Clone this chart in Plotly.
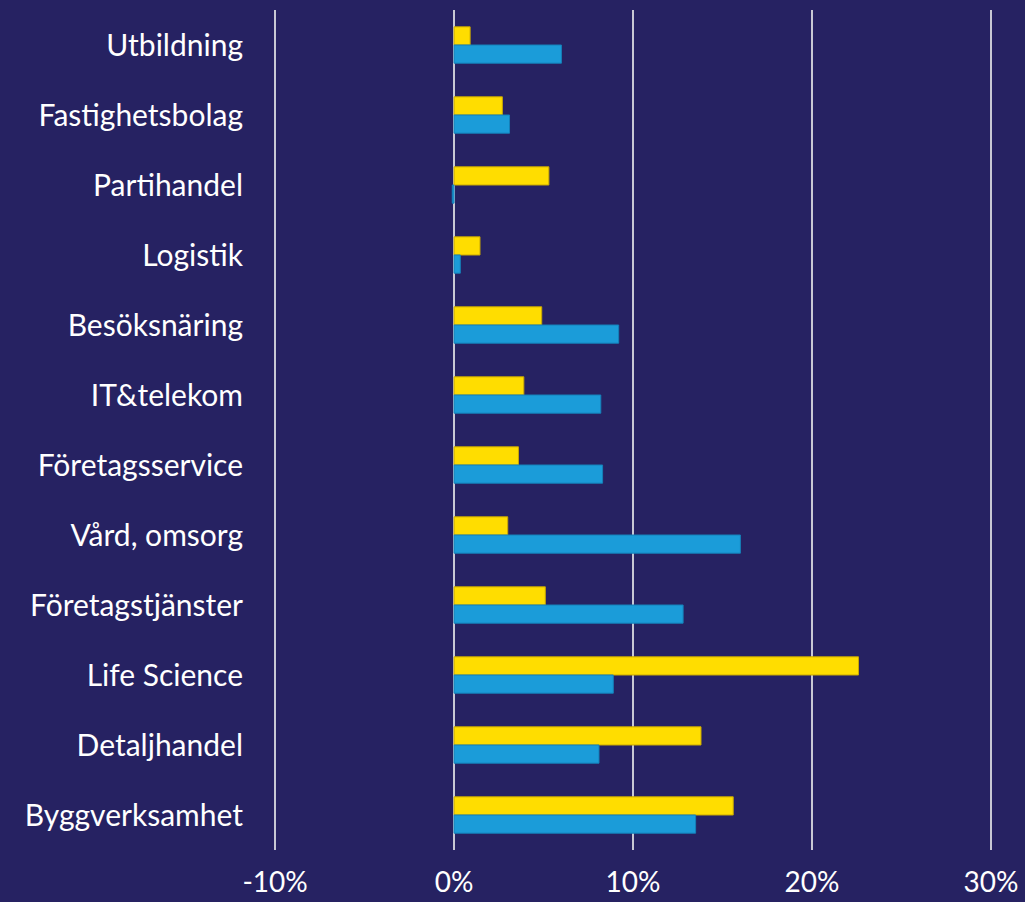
import plotly.graph_objects as go

# Data (percent)
categories = ['Utbildning', 'Fastighetsbolag', 'Partihandel', 'Logistik', 'Besöksnäring',
              'IT&telekom', 'Företagsservice', 'Vård, omsorg', 'Företagstjänster',
              'Life Science', 'Detaljhandel', 'Byggverksamhet']
yellow_values = [0.9, 2.7, 5.3, 1.45, 4.9, 3.9, 3.6, 3.0, 5.1, 22.6, 13.8, 15.6]
blue_values = [6.0, 3.1, -0.1, 0.35, 9.2, 8.2, 8.3, 16.0, 12.8, 8.9, 8.1, 13.5]
tick_vals = [-10, 0, 10, 20, 30]
tick_text = ['-10%', '0%', '10%', '20%', '30%']

BG = '#262262'
FONT = 'Lato, Open Sans, sans-serif'

fig = go.Figure()

fig.add_trace(go.Bar(
    y=categories,
    x=yellow_values,
    orientation='h',
    marker=dict(color='#FFDD00', line=dict(color='#C9A800', width=1)),
    name='yellow'
))
fig.add_trace(go.Bar(
    y=categories,
    x=blue_values,
    orientation='h',
    marker=dict(color='#1B9CD9', line=dict(color='#1580B8', width=1)),
    name='blue'
))

fig.update_layout(
    width=1025,
    height=902,
    barmode='group',
    bargap=0.48,
    bargroupgap=0,
    showlegend=False,
    paper_bgcolor=BG,
    plot_bgcolor=BG,
    margin=dict(l=274, r=33, t=10, b=52, autoexpand=False),
    font=dict(family=FONT, color='white', size=30),
    xaxis=dict(
        range=[-10.06, 30.06],
        tickvals=tick_vals,
        ticktext=tick_text,
        showgrid=True,
        gridcolor='#c8c8d4',
        gridwidth=1.5,
        zeroline=False,
        showline=False,
        automargin=False,
        ticklabelstandoff=13,
        tickfont=dict(size=28, color='white'),
    ),
    yaxis=dict(
        autorange='reversed',
        showgrid=False,
        zeroline=False,
        showline=False,
        automargin=False,
        ticklabelstandoff=30,
        tickfont=dict(size=30, color='white'),
    ),
)

# drop the page's default body margin so the chart fills the window
fig.write_html(
    "out.html",
    config={'displayModeBar': False},
    post_script="document.body.style.margin='0';document.body.style.background='#262262';",
)
